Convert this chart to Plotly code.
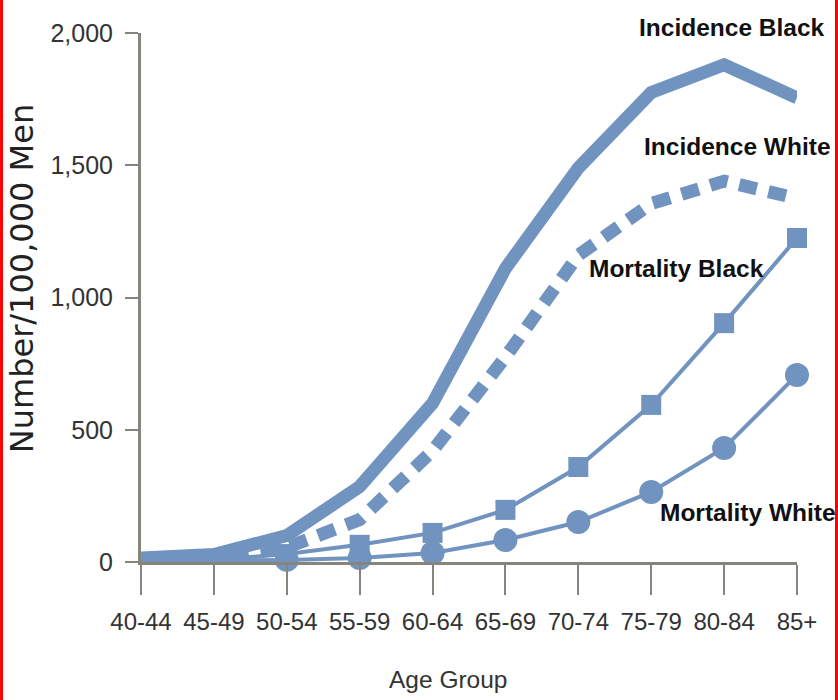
import plotly.graph_objects as go

age_groups = ["40-44", "45-49", "50-54", "55-59", "60-64", "65-69", "70-74", "75-79", "80-84", "85+"]
incidence_black = [15, 28, 100, 285, 600, 1110, 1490, 1775, 1880, 1755]
incidence_white = [5, 15, 55, 160, 420, 775, 1160, 1355, 1440, 1375]
mortality_black = [2, 8, 30, 65, 110, 197, 359, 594, 903, 1225]
mortality_white = [1, 3, 8, 15, 34, 83, 151, 265, 431, 707]
y_ticks = [0, 500, 1000, 1500, 2000]

BLUE = "#7193bf"
SANS = "Liberation Sans, Arial, sans-serif"
AXIS = "#85857c"

show_marker = [0, 0] + [1] * 8

fig = go.Figure()
fig.add_trace(go.Scatter(x=age_groups, y=incidence_black, mode="lines",
                         line=dict(color=BLUE, width=13), cliponaxis=False,
                         name="Incidence Black"))
fig.add_trace(go.Scatter(x=age_groups, y=incidence_white, mode="lines",
                         line=dict(color=BLUE, width=13, dash="18px,12px"), cliponaxis=False,
                         name="Incidence White"))
fig.add_trace(go.Scatter(x=age_groups, y=mortality_black, mode="lines+markers",
                         line=dict(color=BLUE, width=4),
                         marker=dict(symbol="square", size=[20 * v for v in show_marker],
                                     color=BLUE, opacity=1, line=dict(width=0)),
                         cliponaxis=False, name="Mortality Black"))
fig.add_trace(go.Scatter(x=age_groups, y=mortality_white, mode="lines+markers",
                         line=dict(color=BLUE, width=4),
                         marker=dict(symbol="circle", size=[24 * v for v in show_marker],
                                     color=BLUE, opacity=1, line=dict(width=0)),
                         cliponaxis=False, name="Mortality White"))

labels = [
    ("Incidence Black", 0.901, 1.011),
    ("Incidence White", 0.909, 0.785),
    ("Mortality Black", 0.816, 0.554),
    ("Mortality White", 0.925, 0.093),
]
for text, x, y in labels:
    fig.add_annotation(text=f"<b>{text}</b>", x=x, y=y, xref="paper", yref="paper",
                       xanchor="center", yanchor="middle", showarrow=False,
                       font=dict(family=SANS, size=24.5, color="#111"))

fig.add_annotation(text="Number/100,000 Men", x=-0.181, y=0.535, xref="paper", yref="paper",
                   textangle=-90, showarrow=False, xanchor="center", yanchor="middle",
                   font=dict(family="DejaVu Sans", size=32, color="#222"))
fig.add_annotation(text="Age Group", x=0.469, y=-0.222, xref="paper", yref="paper",
                   showarrow=False, xanchor="center", yanchor="middle",
                   font=dict(family=SANS, size=24.5, color="#333"))

# red side borders of the original image
for x0, x1 in [(-0.2149, -0.2104), (1.0579, 1.0625)]:
    fig.add_shape(type="rect", xref="paper", yref="paper", x0=x0, x1=x1, y0=-0.2609, y1=1.0624,
                  fillcolor="#ff0000", line=dict(width=0), layer="above")

fig.update_layout(
    width=838, height=700,
    margin=dict(l=141, r=41, t=33, b=138, autoexpand=False),
    paper_bgcolor="white", plot_bgcolor="white",
    showlegend=False,
    xaxis=dict(type="category", range=[0, 9], showgrid=False, zeroline=False, automargin=False,
               showline=True, linecolor=AXIS, linewidth=3, tickangle=0,
               ticks="outside", ticklen=30, tickwidth=2, tickcolor=AXIS,
               tickfont=dict(family=SANS, size=24, color="#333"), ticklabelstandoff=6),
    yaxis=dict(range=[0, 2000], tickvals=y_ticks, tickformat=",", showgrid=False, zeroline=False,
               automargin=False,
               showline=True, linecolor=AXIS, linewidth=3,
               ticks="outside", ticklen=13, tickwidth=2, tickcolor=AXIS,
               tickfont=dict(family=SANS, size=25, color="#333"), ticklabelstandoff=7),
)

fig.write_html("out.html", config={"displayModeBar": False},
               post_script="document.body.style.margin='0';document.body.style.padding='0';")
